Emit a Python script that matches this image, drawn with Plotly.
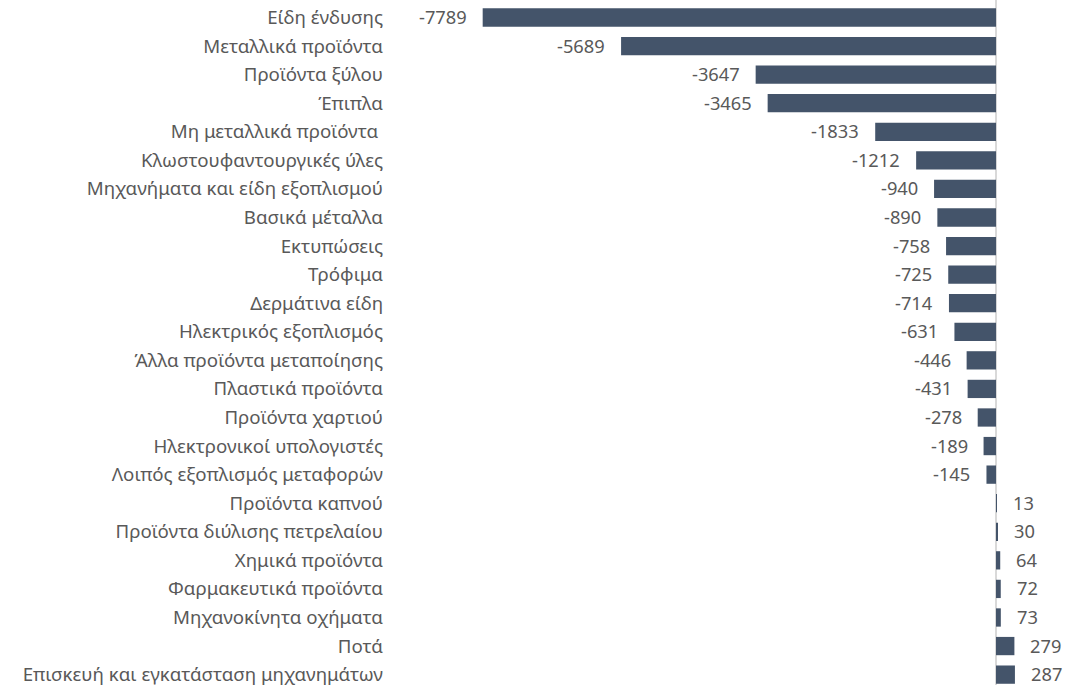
import plotly.graph_objects as go

categories = [
    "Είδη ένδυσης", "Μεταλλικά προϊόντα", "Προϊόντα ξύλου", "Έπιπλα",
    "Μη μεταλλικά προϊόντα ", "Κλωστουφαντουργικές ύλες",
    "Μηχανήματα και είδη εξοπλισμού", "Βασικά μέταλλα", "Εκτυπώσεις",
    "Τρόφιμα", "Δερμάτινα είδη", "Ηλεκτρικός εξοπλισμός",
    "Άλλα προϊόντα μεταποίησης", "Πλαστικά προϊόντα", "Προϊόντα χαρτιού",
    "Ηλεκτρονικοί υπολογιστές", "Λοιπός εξοπλισμός μεταφορών",
    "Προϊόντα καπνού", "Προϊόντα διύλισης πετρελαίου", "Χημικά προϊόντα",
    "Φαρμακευτικά προϊόντα", "Μηχανοκίνητα οχήματα", "Ποτά",
    "Επισκευή και εγκατάσταση μηχανημάτων",
]
values = [-7789, -5689, -3647, -3465, -1833, -1212, -940, -890, -758, -725,
          -714, -631, -446, -431, -278, -189, -145, 13, 30, 64, 72, 73, 279, 287]

BAR = "#44546A"
TXT = "#595959"
FONT = "Noto Sans"
FS_LAB = 18.7
FS_NUM = 18.3

fig = go.Figure(go.Bar(
    x=values, y=categories, orientation="h",
    marker=dict(color=BAR, line=dict(width=0)),
    width=0.64,
    hoverinfo="x+y",
))

for c, v in zip(categories, values):
    fig.add_annotation(
        x=v, y=c, text=str(v), showarrow=False,
        xanchor="right" if v < 0 else "left",
        xshift=-15 if v < 0 else 15,
        yshift=1, borderpad=0,
        font=dict(family=FONT, size=FS_NUM, color=TXT),
    )

fig.update_layout(
    width=1081, height=685,
    margin=dict(l=420, r=20, t=0, b=0),
    paper_bgcolor="white", plot_bgcolor="white",
    showlegend=False,
    font=dict(family=FONT, size=FS_LAB, color=TXT),
    xaxis=dict(range=[-8740, 986], showgrid=False, showticklabels=False,
               zeroline=True, zerolinecolor="#D9D9D9", zerolinewidth=1.8,
               automargin=False, fixedrange=True),
    yaxis=dict(range=[23.363, -0.6125], showgrid=False, showline=False,
               ticks="", ticklabelstandoff=36, automargin=False,
               fixedrange=True,
               tickfont=dict(family=FONT, size=FS_LAB, color=TXT)),
)

fig.write_html("out.html", config={"displayModeBar": False},
               post_script="document.body.style.margin='0';document.body.style.overflow='hidden';")
